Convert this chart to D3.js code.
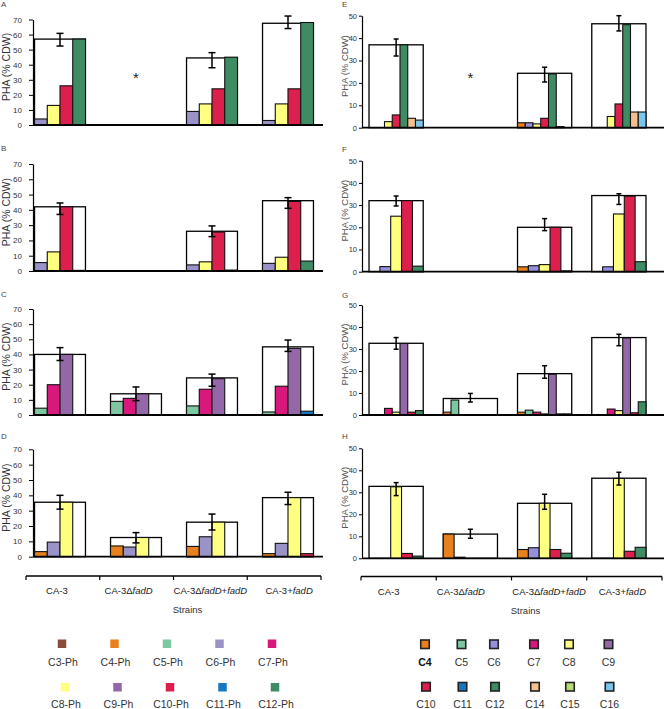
<!DOCTYPE html>
<html><head><meta charset="utf-8">
<script src="https://cdn.jsdelivr.net/npm/d3@7"></script>
<style>body{margin:0;background:#fff}svg{display:block}text{font-family:"Liberation Sans",Arial,sans-serif}</style>
</head><body><svg id="c" width="664" height="709"></svg>
<script>
// ---------- DATA ----------
const strains = ["CA-3", "CA-3ΔfadD", "CA-3ΔfadD+fadD", "CA-3+fadD"];

const leftLegendKeys = ["C3-Ph","C4-Ph","C5-Ph","C6-Ph","C7-Ph","C8-Ph","C9-Ph","C10-Ph","C11-Ph","C12-Ph"];
const leftColors = ["#8a4d3c","#e8801e","#7dc8a0","#9a93c8","#d8187a","#ffff80","#9468a8","#dc1f4c","#1478c3","#3f8c64"];
const rightLegendKeys = ["C4","C5","C6","C7","C8","C9","C10","C11","C12","C14","C15","C16"];
const rightColors = ["#e8801e","#7dc8a0","#9591dc","#d8187a","#ffff80","#9468a8","#dc1f4c","#1478c3","#3f8c64","#f6c08e","#b8dc74","#7cc6ee"];

const yTicksLeft = [0,10,20,30,40,50,60,70];
const yTicksRight = [0,10,20,30,40,50];

// Panel A
const panelAKeys = ["C6-Ph","C8-Ph","C10-Ph","C12-Ph"];
const panelAValues = [[4,13,26,57], null, [9,14,24,45], [3,14,24,68]];
const panelATotals = [57, null, 44.5, 67.5];
const panelAErrLow = [52.4, null, 38, 64];
const panelAErrHigh = [60.8, null, 48, 72.3];
// Panel B
const panelBKeys = ["C6-Ph","C8-Ph","C10-Ph","C12-Ph"];
const panelBValues = [[5.5,12.5,42,0.4], null, [4,6,25.5,0.6], [5,9,45.5,6.5]];
const panelBTotals = [42, null, 26, 46];
const panelBErrLow = [37, null, 22.5, 41];
const panelBErrHigh = [44.5, null, 29.5, 48];
// Panel C
const panelCKeys = ["C5-Ph","C7-Ph","C9-Ph","C11-Ph"];
const panelCValues = [[4.5,20,40,0], [9,11,14,0], [6,17,24,0], [2,19,44,2.5]];
const panelCTotals = [40, 14, 24.5, 45];
const panelCErrLow = [36, 9.5, 19, 42];
const panelCErrHigh = [44.5, 18.5, 27, 49.5];
// Panel D
const panelDKeys = ["C4-Ph","C6-Ph","C8-Ph","C10-Ph"];
const panelDValues = [[3.3,9.5,35.5,0], [7,6.3,12.5,0], [6.7,13,22.5,0], [2,8.7,38.5,2]];
const panelDTotals = [35.5, 12.5, 22.5, 38.5];
const panelDErrLow = [31, 9, 17.4, 34];
const panelDErrHigh = [40, 15.7, 27.8, 42];
// Panel E
const panelEKeys = ["C4","C6","C8","C10","C12","C14","C16"];
const panelEValues = [[0,0,2.7,5.7,37,4.2,3.4], null, [2.2,2.2,1.7,4.2,24,0.5,0], [0,0,5,10.6,46,7,7]];
const panelETotals = [37, null, 24.3, 46.4];
const panelEErrLow = [32, null, 20.4, 43.2];
const panelEErrHigh = [39.6, null, 27, 50];
// Panel F
const panelFKeys = ["C4","C6","C8","C10","C12"];
const panelFValues = [[0,2.3,25,32,2.5], null, [2.2,2.7,3.2,20,0.4], [0,2.2,26,34,4.5]];
const panelFTotals = [32, null, 20, 34.3];
const panelFErrLow = [29.6, null, 18.5, 30.3];
const panelFErrHigh = [34.1, null, 23.9, 35.1];
// Panel G
const panelGKeys = ["C4","C5","C7","C8","C9","C10","C12"];
const panelGValues = [[0,0,3,1.3,32.5,1.3,2], [1.3,6.8,0,0,0,0,0], [1.3,2.2,1.3,0.5,18.5,0.5,0.5], [0,0,2.7,2,35,1,6]];
const panelGTotals = [32.6, 7.5, 18.8, 35.2];
const panelGErrLow = [29.9, 5.9, 16.7, 31.5];
const panelGErrHigh = [35.2, 9.8, 22.4, 36.7];
// Panel H
const panelHKeys = ["C4","C6","C8","C10","C12"];
const panelHValues = [[0,0,32.5,2.2,1], [11,0.5,0,0,0], [4,4.8,25,4,2.3], [0,0,36.3,3.2,5]];
const panelHTotals = [32.7, 11, 25, 36.4];
const panelHErrLow = [28.5, 9.1, 22.3, 33.3];
const panelHErrHigh = [34.4, 13.2, 29.1, 39.1];

// ---------- LAYOUT ----------
const svg = d3.select("#c");
const FONT = '"Liberation Sans", Arial, sans-serif';

const leftCol = {
  yMax: 70, ticks: yTicksLeft, xRange: [22, 326], padIn: 0.33, padOut: 0.165,
  axisX: 33, axisEnd: 323, tickSize: 4, tickPad: 7, tickFont: 8, letterX: 1,
  labelX: 9.5, labelFont: 10.5, labelColor: "#333", capW: 7,
  color: d3.scaleOrdinal().domain(leftLegendKeys).range(leftColors)
};
const rightCol = {
  yMax: 50, ticks: yTicksRight, xRange: [359, 656], padIn: 0.27, padOut: 0.135,
  axisX: 362, axisEnd: 664, tickSize: 3, tickPad: 2, tickFont: 7.5, letterX: 342,
  labelX: 347.5, labelFont: 9.5, labelColor: "#555", capW: 5,
  color: d3.scaleOrdinal().domain(rightLegendKeys).range(rightColors)
};

const panels = [
  {col: leftCol, letter: "A", letterY: 7, yRange: [125, 19.5], keys: panelAKeys, values: panelAValues, totals: panelATotals, lo: panelAErrLow, hi: panelAErrHigh, star: true},
  {col: leftCol, letter: "B", letterY: 151, yRange: [271, 164], keys: panelBKeys, values: panelBValues, totals: panelBTotals, lo: panelBErrLow, hi: panelBErrHigh},
  {col: leftCol, letter: "C", letterY: 297, yRange: [415, 309], keys: panelCKeys, values: panelCValues, totals: panelCTotals, lo: panelCErrLow, hi: panelCErrHigh},
  {col: leftCol, letter: "D", letterY: 439, yRange: [556.7, 449.3], keys: panelDKeys, values: panelDValues, totals: panelDTotals, lo: panelDErrLow, hi: panelDErrHigh},
  {col: rightCol, letter: "E", letterY: 7, yRange: [127.7, 15.7], keys: panelEKeys, values: panelEValues, totals: panelETotals, lo: panelEErrLow, hi: panelEErrHigh, star: true},
  {col: rightCol, letter: "F", letterY: 152, yRange: [271.7, 160.7], keys: panelFKeys, values: panelFValues, totals: panelFTotals, lo: panelFErrLow, hi: panelFErrHigh},
  {col: rightCol, letter: "G", letterY: 298, yRange: [415, 305], keys: panelGKeys, values: panelGValues, totals: panelGTotals, lo: panelGErrLow, hi: panelGErrHigh},
  {col: rightCol, letter: "H", letterY: 439, yRange: [558.3, 448.3], keys: panelHKeys, values: panelHValues, totals: panelHTotals, lo: panelHErrLow, hi: panelHErrHigh}
];

function drawPanel(p) {
  const c = p.col;
  const y = d3.scaleLinear().domain([0, c.yMax]).range(p.yRange);
  const x = d3.scaleBand().domain(strains).range(c.xRange).paddingInner(c.padIn).paddingOuter(c.padOut);
  const sub = d3.scaleBand().domain(p.keys).range([0, x.bandwidth()]);
  const g = svg.append("g");

  g.append("text").attr("x", c.letterX).attr("y", p.letterY).attr("font-size", 8).attr("fill", "#444").text(p.letter);

  const ly = y(c.yMax * 0.55);
  g.append("text").attr("transform", `translate(${c.labelX},${ly}) rotate(-90)`)
    .attr("text-anchor", "middle").attr("font-size", c.labelFont).attr("fill", c.labelColor)
    .text("PHA (% CDW)");

  const ax = g.append("g").attr("transform", `translate(${c.axisX},0)`)
    .call(d3.axisLeft(y).tickValues(c.ticks).tickSize(c.tickSize).tickSizeOuter(0).tickPadding(c.tickPad));
  ax.select(".domain").attr("stroke", "#000").attr("stroke-width", 1.2);
  ax.selectAll(".tick line").attr("stroke", "#000").attr("stroke-width", 1);
  ax.selectAll(".tick text").attr("font-size", c.tickFont).attr("fill", "#333").attr("font-family", FONT);

  strains.forEach((s, i) => {
    const t = p.totals[i];
    if (t == null) {
      if (p.star) {
        g.append("text").attr("x", x(s) + x.bandwidth() / 2).attr("y", y(c.yMax * 0.40))
          .attr("text-anchor", "middle").attr("font-size", 15).attr("fill", "#222").text("*");
      }
      return;
    }
    const gx = x(s);
    g.append("rect").attr("x", gx).attr("y", y(t)).attr("width", x.bandwidth()).attr("height", y(0) - y(t))
      .attr("fill", "#fff").attr("stroke", "#000").attr("stroke-width", 1.3);
    p.keys.forEach((k, j) => {
      const v = p.values[i][j];
      if (!v) return;
      g.append("rect").attr("x", gx + sub(k)).attr("y", y(v)).attr("width", sub.bandwidth()).attr("height", y(0) - y(v))
        .attr("fill", c.color(k)).attr("stroke", "#111").attr("stroke-width", 1.1);
    });
    const cx = gx + x.bandwidth() / 2;
    const eg = g.append("g").attr("stroke", "#000").attr("stroke-width", 1.5);
    eg.append("line").attr("x1", cx).attr("x2", cx).attr("y1", y(p.lo[i])).attr("y2", y(p.hi[i]));
    eg.append("line").attr("x1", cx - c.capW / 2).attr("x2", cx + c.capW / 2).attr("y1", y(p.lo[i])).attr("y2", y(p.lo[i]));
    eg.append("line").attr("x1", cx - c.capW / 2).attr("x2", cx + c.capW / 2).attr("y1", y(p.hi[i])).attr("y2", y(p.hi[i]));
  });

  g.append("line").attr("x1", c.axisX).attr("x2", c.axisEnd).attr("y1", y(0)).attr("y2", y(0))
    .attr("stroke", "#000").attr("stroke-width", 1.8);
}
panels.forEach(drawPanel);

// ---------- STRAIN AXES ----------
function strainAxis(range, yPos, labelShift) {
  const x = d3.scaleBand().domain(strains).range(range);
  const g = svg.append("g").attr("transform", `translate(0,${yPos})`);
  g.append("line").attr("x1", range[0]).attr("x2", range[1]).attr("stroke", "#000").attr("stroke-width", 1.3);
  const bounds = strains.map(s => x(s)).concat([range[1]]);
  g.selectAll("line.tk").data(bounds).join("line").attr("class", "tk")
    .attr("x1", d => d).attr("x2", d => d).attr("y1", 0).attr("y2", 4).attr("stroke", "#000").attr("stroke-width", 1.2);
  strains.forEach((s, i) => {
    const t = g.append("text").attr("x", x(s) + x.bandwidth() / 2 + labelShift[i]).attr("y", 18)
      .attr("text-anchor", "middle").attr("font-size", 9.5).attr("fill", "#222");
    s.split(/(fadD)/).filter(d => d.length).forEach(part => {
      t.append("tspan").attr("font-style", part === "fadD" ? "italic" : "normal").text(part);
    });
  });
  g.append("text").attr("x", (range[0] + range[1]) / 2 + 14).attr("y", 37).attr("text-anchor", "middle")
    .attr("font-size", 9.5).attr("fill", "#333").text("Strains");
}
strainAxis([26, 321], 576, [-6, -8, 0, 5]);
strainAxis([361, 662], 576.5, [-10, -13, 0, -2]);

// ---------- LEGENDS ----------
const leftLegX = d3.scalePoint().domain(d3.range(5)).range([62, 272]);
leftLegendKeys.forEach((k, i) => {
  const row = Math.floor(i / 5), colI = i % 5;
  const cx = leftLegX(colI) + row * 3;
  const sy = 639.5 + row * 43.5;
  svg.append("rect").attr("x", cx - 4.25).attr("y", sy).attr("width", 8.5).attr("height", 8.5)
    .attr("fill", leftCol.color(k));
  svg.append("text").attr("x", cx + 1).attr("y", 665.5 + row * 42).attr("text-anchor", "middle")
    .attr("font-size", 10.5).attr("fill", "#333").text(k);
});
const rightLegXs = [425, 461.5, 494, 534, 569, 608.5];
rightLegendKeys.forEach((k, i) => {
  const row = Math.floor(i / 6), colI = i % 6;
  const cx = rightLegXs[colI] + row * 1;
  const sy = 640 + row * 42.5;
  svg.append("rect").attr("x", cx - 4.25).attr("y", sy).attr("width", 8.5).attr("height", 8.5)
    .attr("fill", rightCol.color(k)).attr("stroke", "#222").attr("stroke-width", 1.6);
  svg.append("text").attr("x", cx).attr("y", 665.5 + row * 42).attr("text-anchor", "middle")
    .attr("font-size", 10.5).attr("fill", k === "C4" ? "#111" : "#333")
    .attr("font-weight", k === "C4" ? "bold" : "normal").text(k);
});
</script>
</body></html>
